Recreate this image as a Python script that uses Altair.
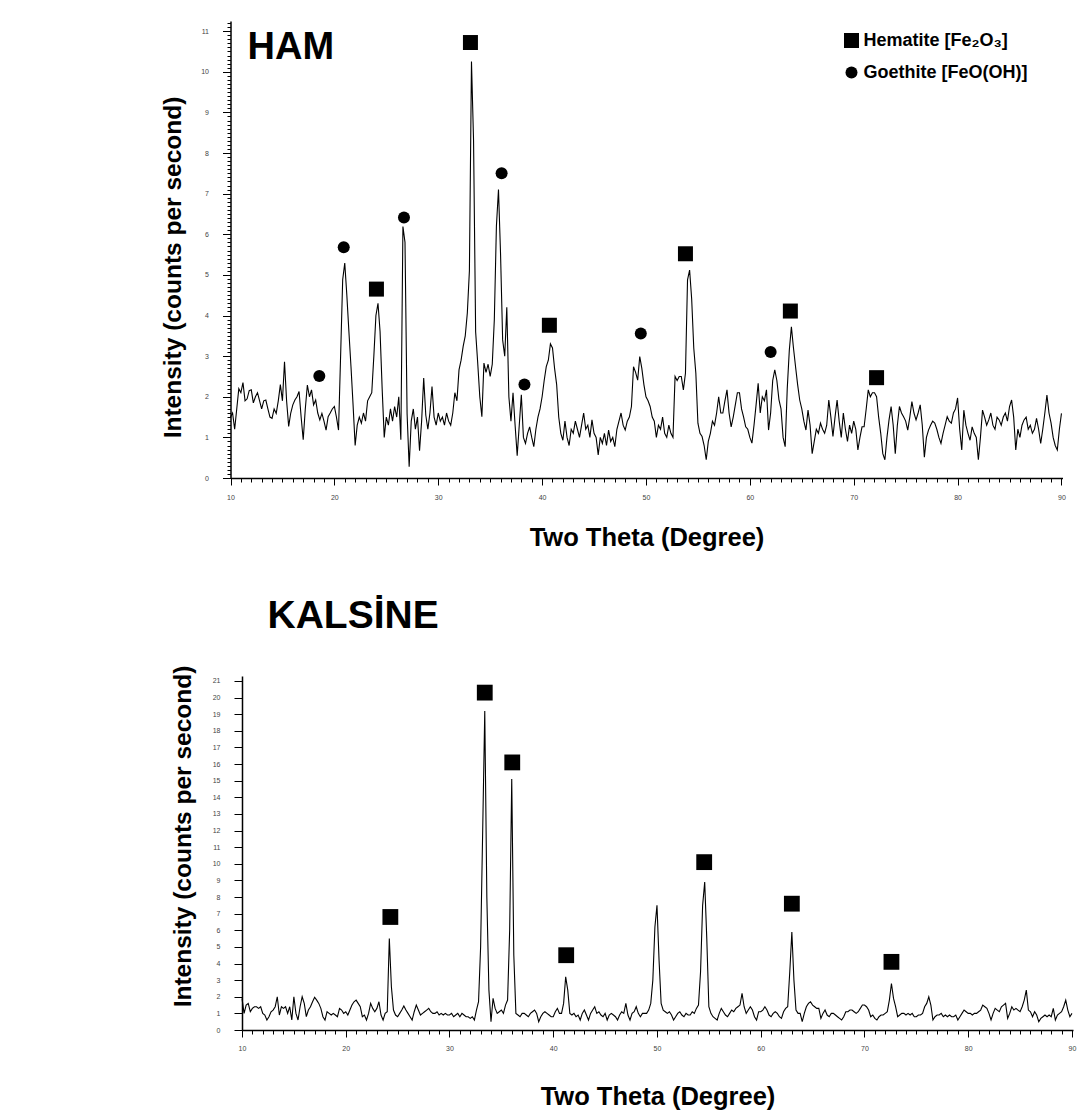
import altair as alt
import numpy as np
import pandas as pd

FONT = "Liberation Sans"
THETA_START = 10.0
THETA_STEP = 0.2

# HAM pattern, intensity read every 0.2 degree (rows = 10,11,...,89 deg), last value at 90
ham_rows = [
    [1.5, 1.6, 1.2, 1.7, 2.2],
    [2.1, 2.35, 1.9, 1.95, 2.15],
    [2.17, 1.85, 2.0, 2.1, 1.9],
    [1.7, 1.9, 1.92, 1.7, 1.5],
    [1.47, 1.7, 1.59, 1.9, 2.3],
    [1.9, 2.86, 1.9, 1.27, 1.6],
    [1.8, 1.92, 2.0, 2.13, 1.5],
    [0.94, 1.7, 2.29, 2.0, 2.17],
    [1.8, 1.92, 1.6, 1.43, 1.59],
    [1.4, 1.18, 1.51, 1.6, 1.7],
    [1.76, 1.5, 1.18, 3.0, 4.88],
    [5.29, 4.5, 3.6, 2.74, 1.8],
    [0.8, 1.3, 1.5, 1.35, 1.6],
    [1.4, 1.9, 2.0, 2.1, 3.0],
    [4.0, 4.3, 3.6, 2.2, 1.0],
    [1.5, 1.3, 1.7, 1.4, 1.76],
    [1.5, 2.0, 0.94, 6.19, 5.8],
    [1.59, 0.28, 1.4, 1.7, 1.2],
    [1.5, 0.67, 1.4, 2.46, 1.55],
    [1.2, 1.6, 2.25, 1.5, 1.3],
    [1.6, 1.4, 1.5, 1.3, 1.6],
    [1.4, 1.3, 1.6, 2.1, 1.9],
    [2.66, 2.9, 3.24, 3.5, 4.06],
    [5.1, 10.25, 8.3, 3.6, 2.83],
    [2.0, 1.51, 2.83, 2.6, 2.8],
    [2.5, 2.8, 3.9, 6.2, 7.1],
    [5.5, 3.4, 3.0, 4.2, 2.0],
    [1.4, 2.1, 1.3, 0.55, 1.3],
    [2.05, 1.0, 0.85, 1.1, 1.26],
    [1.0, 0.77, 1.2, 1.5, 1.7],
    [2.0, 2.4, 2.74, 2.9, 3.3],
    [3.2, 2.7, 2.3, 1.5, 1.1],
    [0.93, 1.4, 1.0, 0.8, 1.2],
    [1.1, 1.4, 1.2, 1.0, 1.3],
    [1.6, 1.2, 1.3, 1.0, 1.43],
    [1.1, 1.0, 0.57, 1.0, 0.85],
    [1.1, 0.8, 1.18, 0.9, 1.0],
    [0.77, 1.2, 1.4, 1.6, 1.3],
    [1.18, 1.4, 1.5, 1.76, 2.74],
    [2.6, 2.41, 2.99, 2.7, 2.3],
    [2.0, 1.9, 1.76, 1.5, 1.4],
    [1.0, 1.3, 1.2, 1.5, 1.1],
    [1.0, 1.3, 1.1, 1.0, 2.5],
    [2.4, 2.5, 2.5, 2.17, 2.58],
    [4.88, 5.12, 4.4, 3.2, 2.58],
    [1.35, 1.1, 1.02, 0.8, 0.45],
    [0.9, 1.1, 1.4, 1.3, 1.6],
    [2.0, 1.6, 1.6, 1.9, 2.17],
    [1.6, 1.26, 1.5, 1.8, 2.1],
    [2.1, 1.7, 1.5, 1.26, 1.2],
    [1.0, 0.86, 1.3, 1.8, 2.33],
    [1.6, 2.0, 1.9, 2.17, 1.18],
    [1.6, 2.4, 2.66, 2.4, 1.93],
    [1.7, 1.0, 0.77, 2.2, 3.15],
    [3.72, 3.2, 2.74, 2.3, 1.92],
    [1.7, 1.4, 1.18, 1.67, 1.3],
    [0.6, 0.9, 1.2, 1.1, 1.35],
    [1.2, 1.1, 1.3, 1.92, 1.5],
    [1.02, 1.5, 1.92, 1.4, 1.0],
    [1.6, 1.2, 0.9, 1.3, 1.1],
    [1.4, 1.2, 0.69, 1.0, 1.26],
    [1.26, 1.7, 2.17, 2.0, 2.1],
    [2.1, 2.0, 1.5, 1.1, 0.6],
    [0.45, 1.0, 1.43, 1.76, 1.3],
    [0.6, 1.3, 1.76, 1.6, 1.51],
    [1.4, 1.18, 1.5, 1.88, 1.6],
    [1.43, 1.6, 1.8, 1.3, 0.51],
    [1.0, 1.18, 1.3, 1.4, 1.35],
    [1.2, 1.0, 0.85, 1.1, 1.3],
    [1.51, 1.4, 1.35, 1.6, 1.7],
    [1.97, 1.2, 0.69, 1.67, 1.3],
    [1.1, 0.93, 1.26, 1.1, 1.0],
    [0.45, 1.0, 1.67, 1.5, 1.3],
    [1.43, 1.6, 1.3, 1.2, 1.5],
    [1.43, 1.3, 1.5, 1.6, 1.4],
    [1.76, 1.92, 1.5, 0.69, 1.2],
    [1.0, 1.3, 1.43, 1.5, 1.2],
    [1.3, 1.1, 1.2, 1.47, 1.2],
    [0.85, 1.2, 1.6, 2.04, 1.6],
    [1.35, 1.0, 0.8, 0.69, 1.2],
]
ham_last = [1.59]

# KALSINE pattern, same sampling
kalsine_rows = [
    [1.9, 1.0, 1.5, 1.6, 1.1],
    [1.3, 1.4, 1.4, 1.3, 1.4],
    [1.0, 0.9, 0.6, 0.8, 1.1],
    [1.2, 1.4, 2.0, 0.9, 1.4],
    [1.3, 1.4, 1.0, 1.4, 0.6],
    [2.0, 1.0, 0.6, 1.4, 2.0],
    [1.6, 0.8, 1.2, 1.4, 1.7],
    [1.97, 1.8, 1.6, 1.3, 0.8],
    [0.6, 1.1, 1.0, 0.9, 1.0],
    [0.9, 0.8, 1.3, 1.2, 1.0],
    [1.1, 0.9, 1.2, 1.5, 1.7],
    [1.8, 1.6, 1.4, 0.8, 0.9],
    [0.6, 1.0, 1.6, 1.3, 1.1],
    [1.3, 1.7, 0.9, 0.6, 1.0],
    [1.1, 5.5, 2.6, 1.2, 0.9],
    [0.8, 1.0, 1.2, 1.45, 1.2],
    [1.0, 0.8, 0.6, 1.1, 1.5],
    [1.2, 0.9, 1.0, 1.1, 1.2],
    [1.3, 1.1, 1.0, 1.0, 1.1],
    [0.9, 1.0, 0.9, 1.0, 0.9],
    [0.9, 1.0, 0.8, 0.9, 1.0],
    [0.8, 1.0, 0.9, 0.8, 0.8],
    [0.7, 0.8, 0.6, 1.2, 1.7],
    [5.0, 12.0, 19.2, 8.0, 2.4],
    [0.5, 1.9, 1.3, 1.0, 1.1],
    [1.2, 1.0, 1.5, 1.8, 6.0],
    [15.1, 4.5, 1.0, 0.9, 0.8],
    [1.0, 1.0, 0.9, 0.8, 1.0],
    [1.1, 1.2, 1.0, 0.5, 0.8],
    [1.0, 1.1, 1.0, 0.9, 0.8],
    [0.8, 1.1, 1.3, 1.0, 1.0],
    [1.6, 3.2, 2.4, 1.0, 0.9],
    [1.0, 0.8, 0.9, 0.6, 1.0],
    [1.2, 0.9, 0.6, 1.0, 1.2],
    [1.4, 1.0, 1.1, 0.9, 0.8],
    [1.0, 0.6, 0.9, 1.0, 0.9],
    [0.8, 0.6, 0.9, 1.1, 1.0],
    [1.6, 0.9, 0.6, 1.0, 1.1],
    [1.4, 1.0, 0.8, 1.0, 1.0],
    [1.0, 1.2, 1.6, 3.0, 6.2],
    [7.5, 4.2, 1.6, 1.2, 1.1],
    [1.0, 1.1, 0.9, 0.6, 0.8],
    [1.0, 1.1, 0.9, 0.8, 1.0],
    [0.9, 0.9, 1.1, 1.0, 1.3],
    [1.5, 3.5, 7.5, 8.9, 5.5],
    [1.4, 1.0, 0.8, 0.7, 0.6],
    [1.0, 1.3, 1.1, 0.9, 0.8],
    [1.0, 1.2, 1.1, 1.3, 1.4],
    [1.5, 2.2, 1.4, 1.0, 1.2],
    [1.4, 1.2, 0.8, 0.6, 1.1],
    [1.1, 1.2, 1.4, 1.2, 0.9],
    [0.8, 1.0, 1.1, 1.0, 0.8],
    [0.7, 1.1, 1.3, 1.4, 3.5],
    [5.9, 3.0, 1.2, 1.0, 1.0],
    [0.5, 1.0, 1.4, 1.6, 1.7],
    [1.5, 1.4, 1.3, 1.3, 0.7],
    [1.0, 1.2, 0.9, 0.8, 1.0],
    [1.0, 0.9, 0.8, 0.7, 0.6],
    [0.8, 1.1, 1.1, 1.2, 1.2],
    [1.1, 1.0, 1.1, 1.3, 1.5],
    [1.5, 1.4, 1.2, 0.8, 0.9],
    [0.7, 0.6, 0.8, 0.9, 0.9],
    [1.0, 1.1, 1.8, 2.8, 1.9],
    [1.4, 0.8, 0.9, 1.0, 1.0],
    [0.9, 1.0, 0.9, 1.0, 0.8],
    [0.8, 0.9, 0.9, 1.0, 1.4],
    [1.6, 2.0, 1.5, 0.6, 0.8],
    [0.9, 0.9, 1.0, 0.8, 0.9],
    [0.8, 0.9, 0.8, 0.8, 0.9],
    [0.6, 0.8, 1.0, 1.2, 1.1],
    [1.0, 1.0, 0.9, 1.0, 1.0],
    [1.1, 1.2, 1.5, 1.4, 1.3],
    [1.0, 0.6, 1.0, 1.3, 1.2],
    [1.1, 1.4, 1.5, 1.6, 0.7],
    [1.0, 1.4, 1.2, 1.3, 1.2],
    [1.1, 1.4, 1.8, 2.4, 1.2],
    [1.1, 0.8, 1.1, 0.9, 0.5],
    [0.7, 0.8, 0.9, 0.8, 0.9],
    [0.8, 1.3, 0.6, 0.9, 1.0],
    [1.1, 1.4, 1.8, 1.2, 0.8],
]
kalsine_last = [1.0]

HEM = "Hematite [Fe\u2082O\u2083]"
GOE = "Goethite [FeO(OH)]"

# phase markers (HAM)
ham_hem_theta = [24.05, 33.1, 40.7, 53.8, 63.9, 72.2]
ham_hem_int = [4.65, 10.72, 3.76, 5.52, 4.11, 2.47]
ham_goe_theta = [18.55, 20.9, 26.7, 36.1, 38.3, 49.5, 62.0]
ham_goe_int = [2.51, 5.68, 6.41, 7.5, 2.3, 3.56, 3.1]
# phase markers (KALSINE)
kal_hem_theta = [24.3, 33.4, 36.05, 41.25, 54.55, 63.0, 72.6]
kal_hem_int = [6.8, 20.3, 16.1, 4.5, 10.1, 7.6, 4.1]

# tick positions
x_major = list(range(10, 91, 10))
x_minor = list(range(10, 91))
top_y_major = list(range(0, 12))
top_y_minor = [round(i * 0.1, 1) for i in range(0, 113)]
bot_y_major = list(range(0, 22))

ham = [v for r in ham_rows for v in r] + ham_last
kal = [v for r in kalsine_rows for v in r] + kalsine_last
theta = np.round(THETA_START + THETA_STEP * np.arange(len(ham)), 1)

ham_df = pd.DataFrame({"theta": theta, "intensity": ham})
kal_df = pd.DataFrame({"theta": theta, "intensity": kal})
ham_mk = pd.DataFrame({
    "theta": ham_hem_theta + ham_goe_theta,
    "intensity": ham_hem_int + ham_goe_int,
    "phase": [HEM] * len(ham_hem_theta) + [GOE] * len(ham_goe_theta),
})
kal_mk = pd.DataFrame({"theta": kal_hem_theta, "intensity": kal_hem_int})

SHIFT = 11.5  # the upper panel's axes start a little left of the lower panel's


def x_major_axis(label_pad, title_pad):
    return alt.Axis(
        orient="bottom", values=x_major, format="d", tickSize=7,
        labelFontSize=7, labelColor="#444", labelFont=FONT,
        labelOverlap=False, labelFlush=False, labelPadding=label_pad,
        domainColor="black", domainWidth=1.5, tickColor="black", tickWidth=1,
        grid=False, title="Two Theta (Degree)", titleFont=FONT,
        titleFontSize=25.5, titleFontWeight="bold", titleColor="black",
        titlePadding=title_pad,
    )


def x_minor_axis():
    return alt.Axis(orient="bottom", values=x_minor, labels=False, domain=False,
                    tickSize=4, tickColor="black", tickWidth=1, grid=False, title=None)


def y_major_axis(values, title_pad, title_y, offset=0):
    return alt.Axis(
        orient="left", values=values, format="d", tickSize=8, offset=offset,
        labelFontSize=7, labelColor="#444", labelFont=FONT,
        labelOverlap=False, labelFlush=False, labelPadding=14,
        domainColor="black", domainWidth=1.5, tickColor="black", tickWidth=1,
        grid=False, title="Intensity (counts per second)", titleFont=FONT,
        titleFontSize=24.5, titleFontWeight="bold", titleColor="black",
        titlePadding=title_pad, titleY=title_y,
    )


def y_minor_axis(values, offset=0):
    return alt.Axis(orient="left", values=values, labels=False, domain=False, offset=offset,
                    tickSize=3.5, tickColor="black", tickWidth=1, grid=False, title=None)


TOP_W = 820.5
top_xscale = alt.Scale(domain=[10, 90.1], range=[-SHIFT, TOP_W], nice=False, zero=False)
top_yscale = alt.Scale(domain=[0, 11.25], nice=False)

top_line = alt.Chart(ham_df).mark_line(color="black", strokeWidth=1.1).encode(
    x=alt.X("theta:Q", scale=top_xscale, axis=x_major_axis(8, 25)),
    y=alt.Y("intensity:Q", scale=top_yscale, axis=y_major_axis(top_y_major, 15, 246, SHIFT)),
)
leg = dict(orient="none", legendX=600.5, legendY=10.5, title=None,
           labelFont=FONT, labelFontSize=18, labelFontWeight="bold",
           labelColor="black", rowPadding=14, labelOffset=3, labelLimit=400,
           padding=0, symbolFillColor="black", symbolStrokeWidth=0)
top_marks = alt.Chart(ham_mk).mark_point(filled=True, opacity=1, color="black").encode(
    x=alt.X("theta:Q", scale=top_xscale, axis=x_minor_axis()),
    y=alt.Y("intensity:Q", scale=top_yscale, axis=y_minor_axis(top_y_minor, SHIFT)),
    shape=alt.Shape("phase:N", scale=alt.Scale(domain=[HEM, GOE], range=["square", "circle"]),
                    legend=alt.Legend(**leg)),
    size=alt.Size("phase:N", scale=alt.Scale(domain=[HEM, GOE], range=[225, 144]),
                  legend=alt.Legend(**leg)),
)
ham_label = alt.Chart(pd.DataFrame({"t": ["HAM"]})).mark_text(
    font=FONT, fontSize=38, fontWeight="bold", color="black", align="left", baseline="alphabetic"
).encode(text="t:N", x=alt.value(5.5), y=alt.value(38))

top = alt.layer(top_line, top_marks, ham_label).resolve_axis(
    x="independent", y="independent").properties(width=TOP_W, height=457)

bot_xscale = alt.Scale(domain=[10, 90.1], nice=False, zero=False)
bot_yscale = alt.Scale(domain=[0, 21.3], nice=False)

bot_line = alt.Chart(kal_df).mark_line(color="black", strokeWidth=1.1).encode(
    x=alt.X("theta:Q", scale=bot_xscale, axis=x_major_axis(7, 33)),
    y=alt.Y("intensity:Q", scale=bot_yscale, axis=y_major_axis(bot_y_major, 17, 160)),
)
bot_marks = alt.Chart(kal_mk).mark_point(filled=True, opacity=1, color="black", shape="square",
                                         size=250).encode(
    x=alt.X("theta:Q", scale=bot_xscale, axis=x_minor_axis()),
    y=alt.Y("intensity:Q", scale=bot_yscale, axis=None),
)

bottom = alt.layer(bot_line, bot_marks).resolve_axis(x="independent", y="independent").properties(
    width=831, height=354,
    title=alt.Title("KALS\u0130NE", anchor="start", frame="group", font=FONT, fontSize=39,
                    fontWeight="bold", color="black", dx=25.5, offset=-2, baseline="alphabetic"),
)

chart = alt.vconcat(top, bottom, spacing=46).resolve_scale(
    x="independent", y="independent", shape="independent", size="independent"
).resolve_legend(shape="independent", size="independent").properties(
    padding={"left": 160, "top": 21, "right": 5, "bottom": 0}
).configure_view(stroke=None)

chart.save("out.html", embed_options={"renderer": "svg", "actions": False})
